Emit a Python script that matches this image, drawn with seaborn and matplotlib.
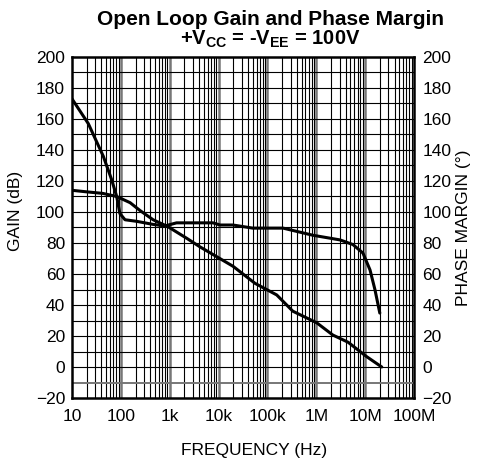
import numpy as np
import pandas as pd
import matplotlib
matplotlib.use("Agg")
import matplotlib.pyplot as plt
from matplotlib.ticker import FixedLocator, FixedFormatter, NullFormatter
import seaborn as sns

# values (frequency as log10(Hz))
gain_logf = [1.0, 1.30, 1.63, 1.915, 2.19, 2.39, 2.66, 2.96, 3.35, 3.62,
             4.295, 4.745, 5.19, 5.52, 6.01, 6.34, 6.65, 7.03, 7.34]
gain_db = [114, 113, 112, 110, 106, 101, 95, 90.6, 83, 77.5,
           65, 54, 46.5, 36, 28.5, 20.6, 16, 6.7, 0]

phase_logf = [1.0, 1.334, 1.64, 1.81, 1.915, 1.98, 2.085, 2.32, 2.66, 2.90,
              3.14, 3.886, 4.03, 4.295, 4.70, 5.32, 5.93, 6.485, 6.75, 6.955,
              7.10, 7.20, 7.30]
phase_deg = [173, 157, 136, 121, 110, 99, 95, 94, 92, 91,
             93, 93, 91.6, 91.6, 89.6, 89.6, 85, 82, 79, 73.5,
             62.6, 50, 34.8]

decades = [10, 100, 1e3, 1e4, 1e5, 1e6, 1e7, 1e8]
freq_labels = ["10", "100", "1k", "10k", "100k", "1M", "10M", "100M"]
y_ticks = list(range(-20, 201, 20))

sns.set_style("white")
plt.rcParams["font.family"] = ["Liberation Sans", "DejaVu Sans"]
plt.rcParams["text.color"] = "black"
plt.rcParams["xtick.color"] = "black"
plt.rcParams["ytick.color"] = "black"
plt.rcParams["axes.labelcolor"] = "black"
plt.rcParams["mathtext.fontset"] = "custom"
plt.rcParams["mathtext.rm"] = "Liberation Sans"
plt.rcParams["mathtext.bf"] = "Liberation Sans:bold"

gain = pd.DataFrame({"freq": 10 ** np.array(gain_logf), "val": gain_db})
phase = pd.DataFrame({"freq": 10 ** np.array(phase_logf), "val": phase_deg})

fig = plt.figure(figsize=(4.79, 4.61), dpi=100)
ax = fig.add_axes([72 / 479, 63 / 461, 342 / 479, 341 / 461])
ax.set_xscale("log")
ax.set_xlim(10, 1e8)
ax.set_ylim(-20, 200)

# grid: minor log lines, heavier decades, every 10 dB horizontally
for d in decades[:-1]:
    for m in range(2, 10):
        ax.axvline(d * m, color="black", lw=0.8, zorder=1)
for d in decades[1:-1]:
    ax.axvline(d, color="#777777", lw=1.8, zorder=1)
for yv in range(-10, 200, 10):
    c = "#777777" if yv == -10 else "black"
    ax.axhline(yv, color=c, lw=1.4 if yv == -10 else 0.8, zorder=1)

sns.lineplot(data=phase, x="freq", y="val", ax=ax, color="black", lw=2.2,
             zorder=3, sort=False)
sns.lineplot(data=gain, x="freq", y="val", ax=ax, color="black", lw=2.2,
             zorder=3, sort=False)

fs = 12.5
ax.xaxis.set_major_locator(FixedLocator(decades))
ax.xaxis.set_major_formatter(FixedFormatter(freq_labels))
ax.xaxis.set_minor_formatter(NullFormatter())
ax.set_yticks(y_ticks)
ax.tick_params(axis="both", which="both", length=0, labelsize=fs)
ax.tick_params(axis="x", pad=8)
ax.tick_params(axis="y", pad=5)
for s in ax.spines.values():
    s.set_linewidth(1.8)
    s.set_color("black")

ax2 = ax.twinx()
ax2.set_ylim(-20, 200)
ax2.set_yticks(y_ticks)
ax2.tick_params(axis="y", length=0, labelsize=fs, pad=6)
for s in ax2.spines.values():
    s.set_visible(False)

ax.set_xlabel("FREQUENCY (Hz)", fontsize=fs)
ax.xaxis.set_label_coords(0.532, -0.133)
ax.set_ylabel("GAIN (dB)", fontsize=fs)
ax.yaxis.set_label_coords(-0.143, 0.55)
ax2.set_ylabel("PHASE MARGIN (°)", fontsize=fs)
ax2.yaxis.set_label_coords(1.122, 0.5)

fig.text(0.564, 0.958, "Open Loop Gain and Phase Margin", ha="center",
         va="center", fontsize=15, fontweight="bold")
fig.text(0.564, 0.914, r"+V$_{\mathbf{CC}}$ = -V$_{\mathbf{EE}}$ = 100V",
         ha="center", va="center", fontsize=14.5, fontweight="bold")

fig.savefig("out.png", dpi=100)
